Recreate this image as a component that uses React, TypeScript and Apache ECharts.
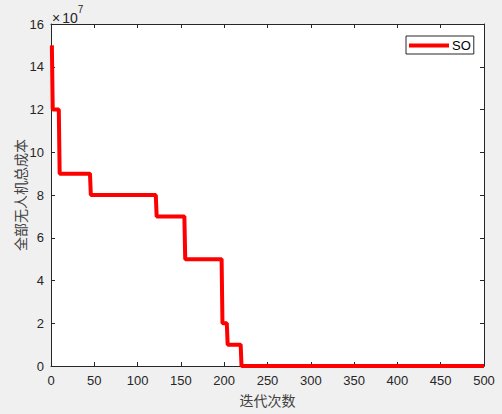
import React, { useEffect, useRef } from "react";
import * as echarts from "echarts";

// Convergence curve breakpoints (iteration, total cost in units of 1e7)
const iterations = [1, 2, 9, 10, 45, 46, 121, 122, 154, 155, 197, 198, 203, 204, 219, 220, 500];
const costs = [15, 12, 12, 9, 9, 8, 8, 7, 7, 5, 5, 2, 2, 1, 1, 0, 0];
const seriesName = "SO";
const xTitle = "迭代次数";
const yTitle = "全部无人机总成本";

const axisColor = "#262626";
const labelFont = "Liberation Sans, Arial, Helvetica, sans-serif";

export default function App() {
  const ref = useRef<HTMLDivElement>(null);
  useEffect(() => {
    if (!ref.current) return;
    const chart = echarts.init(ref.current, undefined, { renderer: "svg" });
    const data = iterations.map((it, i) => [it, costs[i]]);
    const tickCommon = {
      show: true,
      inside: true,
      length: 4,
      lineStyle: { color: axisColor, width: 1 },
    };
    chart.setOption({
      animation: false,
      backgroundColor: "#f0f0f0",
      grid: {
        left: 51,
        top: 24,
        width: 433,
        height: 342,
        show: true,
        backgroundColor: "#ffffff",
        borderWidth: 0,
        containLabel: false,
        outerBoundsMode: "none",
      },
      legend: {
        data: [seriesName],
        left: 406,
        top: 36,
        padding: [3, 3, 2, 3],
        backgroundColor: "#ffffff",
        borderColor: axisColor,
        borderWidth: 1,
        borderRadius: 0,
        itemWidth: 40,
        itemHeight: 4,
        icon: "rect",
        textStyle: { color: "#000", fontSize: 13, fontFamily: labelFont, padding: [0, 0, 0, -2] },
      },
      xAxis: [
        {
          type: "value",
          min: 0,
          max: 500,
          interval: 50,
          position: "bottom",
          name: xTitle,
          nameLocation: "middle",
          nameGap: 27,
          nameMoveOverlap: false,
          nameTextStyle: { color: "#404040", fontSize: 14, fontFamily: "Noto Sans CJK SC" },
          axisLine: { show: true, onZero: false, lineStyle: { color: axisColor, width: 1 } },
          axisTick: tickCommon,
          axisLabel: { color: axisColor, fontSize: 13, fontFamily: labelFont, margin: 8 },
          splitLine: { show: false },
        },
        {
          type: "value",
          min: 0,
          max: 500,
          interval: 50,
          position: "top",
          axisLine: { show: true, onZero: false, lineStyle: { color: axisColor, width: 1 } },
          axisTick: tickCommon,
          axisLabel: { show: false },
          splitLine: { show: false },
        },
      ],
      yAxis: [
        {
          type: "value",
          min: 0,
          max: 16,
          interval: 2,
          position: "left",
          name: yTitle,
          nameLocation: "middle",
          nameGap: 24,
          nameMoveOverlap: false,
          nameRotate: 90,
          nameTextStyle: { color: "#404040", fontSize: 14, fontFamily: "Noto Sans CJK SC" },
          axisLine: { show: true, onZero: false, lineStyle: { color: axisColor, width: 1 } },
          axisTick: tickCommon,
          axisLabel: { color: axisColor, fontSize: 13, fontFamily: labelFont, margin: 7 },
          splitLine: { show: false },
        },
        {
          type: "value",
          min: 0,
          max: 16,
          interval: 2,
          position: "right",
          axisLine: { show: true, onZero: false, lineStyle: { color: axisColor, width: 1 } },
          axisTick: tickCommon,
          axisLabel: { show: false },
          splitLine: { show: false },
        },
      ],
      graphic: [
        {
          type: "text",
          left: 52,
          top: 4,
          style: {
            text: "{a|×}{c|10}{b|7}",
            rich: {
              a: { fontSize: 14, fontFamily: labelFont, fill: axisColor, padding: [7, 2, 0, 0] },
              c: { fontSize: 14, fontFamily: labelFont, fill: axisColor, padding: [7, 0, 0, 0] },
              b: { fontSize: 10, fontFamily: labelFont, fill: axisColor, verticalAlign: "top" },
            },
          },
        },
      ],
      series: [
        {
          name: seriesName,
          type: "line",
          data,
          showSymbol: false,
          symbol: "none",
          lineStyle: { color: "#ff0000", width: 4 },
          itemStyle: { color: "#ff0000" },
          xAxisIndex: 0,
          yAxisIndex: 0,
        },
      ],
    });
    return () => chart.dispose();
  }, []);
  return (
    <div
      ref={ref}
      style={{ position: "fixed", left: 0, top: 0, width: 502, height: 414 }}
    />
  );
}
